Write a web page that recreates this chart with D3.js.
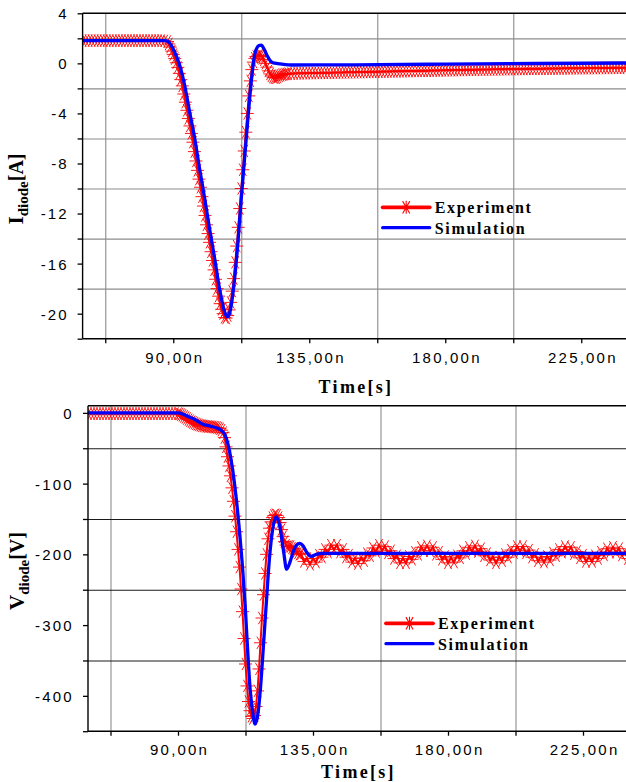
<!DOCTYPE html>
<html><head><meta charset="utf-8">
<script src="https://cdn.jsdelivr.net/npm/d3@7"></script>
<style>body{margin:0;background:#fff}svg{display:block}</style>
</head><body><svg id="c" width="626" height="782"></svg>
<script>
// ---------- data ----------
const timeTicks = [90, 135, 180, 225];
const timeTickLabels = ["90,00n", "135,00n", "180,00n", "225,00n"];
const timeGrid = [67.5, 112.5, 157.5, 202.5];
const currentTicks = [4, 0, -4, -8, -12, -16, -20];
const currentMinor = [2, -2, -6, -10, -14, -18, -22];
const currentGrid = [2, -2, -6, -10, -14, -18];
const voltageTicks = [0, -100, -200, -300, -400];
const voltageMinor = [-50, -150, -250, -350, -450];
const voltageGrid = [-50, -150, -250, -350];
const legendLabels = ["Experiment", "Simulation"];
const xTitle = "Time[s]";

// Simulation, diode current [A] (time in ns)
const simCurrent = [[60,1.82],[87,1.82],[88.2,1.78],[89.3,1.45],[90.4,0.93],[92.1,-0.13],[93.75,-1.73],[95.4,-3.87],[97.1,-6],[98.7,-8.4],[100.4,-10.8],[102,-13.2],[103.7,-15.6],[105.3,-18],[106.4,-19.3],[107.2,-20.0],[107.9,-20.25],[108.6,-20.0],[109.2,-19.3],[110.3,-17.2],[111.4,-14.3],[112.5,-10.8],[113.6,-7.6],[114.7,-4.4],[115.8,-1.47],[116.9,0.67],[117.6,1.2],[118.3,1.42],[119.1,1.45],[120.2,1.07],[121.1,0.6],[121.9,0.27],[123,0.05],[124.6,-0.02],[129,-0.13],[150,-0.12],[180,-0.06],[210,-0.01],[240,0.03]];

// Experiment, diode current [A]
const expCurrent = [[60,1.82],[61,1.82],[62,1.82],[63,1.82],[64,1.82],[65,1.82],[66,1.82],[67,1.82],[68,1.82],[69,1.82],[70,1.82],[71,1.82],[72,1.82],[73,1.82],[74,1.82],[75,1.82],[76,1.82],[77,1.82],[78,1.82],[79,1.82],[80,1.82],[81,1.82],[82,1.82],[83,1.82],[84,1.82],[85,1.82],[86,1.82],[87,1.8],
[88,1.75],[88.5,1.55],[89,1.3],[89.5,0.98],[90,0.7],[90.5,0.38],[91,0.05],[91.5,-0.32],[92,-0.8],[92.5,-1.3],[93,-1.8],[93.5,-2.45],[94,-3.1],[94.5,-3.75],[95,-4.4],[95.5,-5.0],[96,-5.6],[96.5,-6.3],[97,-7.05],[97.5,-7.8],[98,-8.55],[98.5,-9.25],[99,-9.9],[99.5,-10.65],[100,-11.4],[100.5,-12.15],[101,-12.9],[101.5,-13.6],[102,-14.3],[102.5,-15.05],[103,-15.75],[103.5,-16.5],[104,-17.25],[104.5,-18.0],[105,-18.6],[105.5,-19.2],[106,-19.65],[106.5,-20.0],[107,-20.3],[107.5,-20.35],[108,-20.15],[108.5,-19.7],[109,-19.1],[109.5,-18.2],[110,-17.2],[110.5,-15.9],[111,-14.6],[111.5,-13.1],[112,-11.6],[112.5,-10.0],[113,-8.5],[113.5,-7.0],[114,-5.5],[114.5,-4.0],[115,-2.6],[115.5,-1.4],[116,-0.5],[116.5,0.1],[117,0.4],[117.5,0.55],[118,0.6],[118.5,0.65],[119,0.65],[119.5,0.55],[120,0.3],[120.5,0.0],[121,-0.3],[121.5,-0.6],[122,-0.85],[122.5,-1.0],[123,-1.1],[123.5,-1.15],[124,-1.15],[124.5,-1.1],[125,-1.0],[125.5,-0.95],[126,-0.9],[126.5,-0.9],[127,-0.85],[127.5,-0.85],
[128,-0.82],[129,-0.82],[130,-0.81],[131,-0.8],[132,-0.8],[133,-0.79],[134,-0.79],[135,-0.78],[136,-0.78],[137,-0.77],[138,-0.77],[139,-0.76],[140,-0.76],[141,-0.75],[142,-0.75],[143,-0.74],[144,-0.74],[145,-0.73],[146,-0.73],[147,-0.72],[148,-0.72],[149,-0.71],[150,-0.71],[151,-0.7],[152,-0.7],[153,-0.69],[154,-0.69],[155,-0.68],[156,-0.68],[157,-0.67],[158,-0.67],[159,-0.66],[160,-0.66],[161,-0.65],[162,-0.65],[163,-0.64],[164,-0.64],[165,-0.63],[166,-0.63],[167,-0.62],[168,-0.62],[169,-0.61],[170,-0.61],[171,-0.6],[172,-0.6],[173,-0.59],[174,-0.59],[175,-0.58],[176,-0.58],[177,-0.57],[178,-0.57],[179,-0.56],[180,-0.56],[181,-0.55],[182,-0.55],[183,-0.54],[184,-0.54],[185,-0.53],[186,-0.53],[187,-0.52],[188,-0.52],[189,-0.51],[190,-0.51],[191,-0.5],[192,-0.5],[193,-0.5],[194,-0.49],[195,-0.49],[196,-0.48],[197,-0.48],[198,-0.48],[199,-0.47],[200,-0.47],[201,-0.46],[202,-0.46],[203,-0.46],[204,-0.45],[205,-0.45],[206,-0.45],[207,-0.44],[208,-0.44],[209,-0.44],[210,-0.43],[211,-0.43],[212,-0.43],[213,-0.42],[214,-0.42],[215,-0.42],[216,-0.41],[217,-0.41],[218,-0.41],[219,-0.4],[220,-0.4],[221,-0.4],[222,-0.4],[223,-0.39],[224,-0.39],[225,-0.39],[226,-0.39],[227,-0.38],[228,-0.38],[229,-0.38],[230,-0.38],[231,-0.37],[232,-0.37],[233,-0.37],[234,-0.37],[235,-0.36],[236,-0.36],[237,-0.36],[238,-0.36],[239,-0.35],[240,-0.35]];

// Simulation, diode voltage [V]
const simVoltage = [[60,0],[90,0],[91.5,-1.5],[93,-4.5],[95.9,-10],[98.3,-16],[100.5,-18.5],[102.7,-21],[104,-23.5],[104.9,-26.5],[105.6,-30.5],[106.1,-36],[107.2,-54.7],[108.3,-83],[109.4,-120.6],[110.5,-167.6],[111.6,-224],[112.5,-280.6],[113.3,-341.8],[114.1,-393.5],[115,-426.5],[115.7,-440],[116.6,-426.5],[117.5,-388.8],[118.5,-327.6],[119.4,-271],[120.5,-205],[121.6,-163],[122.7,-147],[123.8,-158],[125.2,-196],[126.2,-221],[127.4,-210],[128.5,-195],[129.5,-187],[130.6,-184.5],[131.7,-188],[132.9,-197],[134.3,-203],[135.8,-200.5],[138,-198.5],[240,-198.5]];

// Experiment, diode voltage [V]
const expVoltage = [[60,-1],[61,-1],[62,-1],[63,-1],[64,-1],[65,-1],[66,-1],[67,-1],[68,-1],[69,-1],[70,-1],[71,-1],[72,-1],[73,-1],[74,-1],[75,-1],[76,-1],[77,-1],[78,-1],[79,-1],[80,-1],[81,-1],[82,-1],[83,-1],[84,-1],[85,-1],[86,-1],[87,-1],[88,-1],[89,-1],
[90,-1],[90.5,-1.5],[91,-2.5],[91.5,-3.5],[92,-5],[92.5,-6.5],[93,-8],[93.5,-9.5],[94,-11],[94.5,-12.5],[95,-13.5],[95.5,-14.5],[96,-15.5],[96.5,-16.3],[97,-17],[97.5,-17.6],[98,-18.1],[98.5,-18.5],[99,-18.8],[99.5,-19.1],[100,-19.3],[100.5,-19.5],[101,-19.7],[101.5,-19.9],[102,-20.1],[102.5,-20.4],[103,-20.8],[103.5,-21.5],[104,-22.5],[104.5,-24.5],[105,-28],[105.5,-35],[106,-48],[106.5,-62],[107,-75],[107.5,-89],[108,-106],[108.5,-125],[109,-146],[109.5,-168],[110,-193],[110.5,-218],[111,-249],[111.5,-281],[112,-319],[112.5,-355],[113,-386],[113.5,-408],[114,-421],[114.5,-429],[115,-432],[115.5,-428],[116,-415],[116.5,-393],[117,-362],[117.5,-325],[118,-290],[118.5,-257],[119,-227],[119.5,-200],[120,-178],[120.5,-163],[121,-154],[121.5,-148],[122,-145],[122.5,-144],[123,-145],[123.5,-148],[124,-155],[124.5,-165],[125,-175],[125.5,-182],[126,-187],[126.5,-189],[127,-189],[127.5,-189],[128,-191],[128.5,-192],[129,-194],[129.5,-196],[130,-198],[130.5,-200],
[131,-199],[132,-210],[133,-206],[134,-214],[135,-206],[136,-211],[137,-201],[138,-204],[139,-193],[140,-197],[141,-187],[142,-193],[143,-187],[144,-197],[145,-193],[146,-204],[147,-201],[148,-211],[149,-206],[150,-213],[151,-205],[152,-209],[153,-199],[154,-202],[155,-191],[156,-196],[157,-187],[158,-194],[159,-189],[160,-198],[161,-195],[162,-206],[163,-202],[164,-212],[165,-206],[166,-212],[167,-203],[168,-207],[169,-197],[170,-200],[171,-190],[172,-195],[173,-188],[174,-195],[175,-190],[176,-200],[177,-197],[178,-207],[179,-203],[180,-212],[181,-205],[182,-211],[183,-202],[184,-205],[185,-195],[186,-199],[187,-190],[188,-195],[189,-188],[190,-196],[191,-192],[192,-202],[193,-199],[194,-208],[195,-204],[196,-212],[197,-204],[198,-209],[199,-200],[200,-204],[201,-194],[202,-198],[203,-189],[204,-195],[205,-189],[206,-198],[207,-194],[208,-204],[209,-200],[210,-209],[211,-204],[212,-211],[213,-203],[214,-208],[215,-198],[216,-202],[217,-193],[218,-197],[219,-189],[220,-196],[221,-190],[222,-199],[223,-196],[224,-205],[225,-201],[226,-210],[227,-204],[228,-210],[229,-202],[230,-206],[231,-197],[232,-201],[233,-192],[234,-197],[235,-190],[236,-197],[237,-192],[238,-201],[239,-197],[240,-206]];

// ---------- drawing ----------
const W = 626, H = 782;
const SANS = "'Liberation Sans', Arial, sans-serif";
const SERIF = "'Liberation Serif', 'Times New Roman', serif";
const svg = d3.select("#c");
const starPath = "M-6.5,0L6.5,0M-3.6,-6.2L3.6,6.2M-3.6,6.2L3.6,-6.2";

function drawPanel(p) {
  const x = d3.scaleLinear().domain([60, 240]).range([p.left, p.right]);
  const y = d3.scaleLinear().domain(p.yDomain).range([p.bottom, p.top]);
  const g = svg.append("g");
  const clipId = "clip" + p.id;
  svg.append("clipPath").attr("id", clipId).append("rect")
    .attr("x", p.left).attr("y", p.top).attr("width", W - p.left).attr("height", p.bottom - p.top);

  // vertical grid
  g.append("g").attr("transform", `translate(0,${p.bottom})`)
    .call(d3.axisBottom(x).tickValues(timeGrid).tickSize(-(p.bottom - p.top)).tickFormat(""))
    .call(s => { s.select(".domain").remove(); s.selectAll("line").attr("stroke", "#8c8c8c").attr("stroke-width", 1.1); });
  // horizontal grid
  g.append("g").attr("transform", `translate(${p.left},0)`)
    .call(d3.axisLeft(y).tickValues(p.gridY).tickSize(-(W - p.left)).tickFormat(""))
    .call(s => { s.select(".domain").remove(); s.selectAll("line").attr("stroke", p.gridColor).attr("stroke-width", 1.1); });

  // data
  const plot = g.append("g").attr("clip-path", `url(#${clipId})`);
  plot.append("path").datum(p.exp)
    .attr("d", d3.line().x(d => x(d[0])).y(d => y(d[1])))
    .attr("fill", "none").attr("stroke", "#ff0000").attr("stroke-width", 2);
  plot.append("g").selectAll("path").data(p.exp).join("path")
    .attr("transform", d => `translate(${x(d[0])},${y(d[1])})`)
    .attr("d", starPath).attr("fill", "none").attr("stroke", "#ff0000")
    .attr("stroke-width", 1).attr("opacity", 0.9);
  plot.append("path").datum(p.sim)
    .attr("d", d3.line().curve(d3.curveMonotoneX).x(d => x(d[0])).y(d => y(d[1])))
    .attr("fill", "none").attr("stroke", "#0000ff").attr("stroke-width", 3.3)
    .attr("stroke-linejoin", "round").attr("stroke-linecap", "round");

  // frame
  const frame = g.append("g").attr("stroke", "#000").attr("stroke-width", 1.4);
  frame.append("line").attr("x1", p.left).attr("x2", p.left).attr("y1", p.top).attr("y2", p.bottom);
  frame.append("line").attr("x1", p.left).attr("x2", W).attr("y1", p.top).attr("y2", p.top);
  frame.append("line").attr("x1", p.left).attr("x2", W).attr("y1", p.bottom).attr("y2", p.bottom);

  // y axis ticks
  const yMajor = g.append("g").attr("transform", `translate(${p.left},0)`)
    .call(d3.axisLeft(y).tickValues(p.yTicks).tickSize(5).tickSizeOuter(0).tickPadding(p.yPad).tickFormat(d3.format("d")));
  const yMinor = g.append("g").attr("transform", `translate(${p.left},0)`)
    .call(d3.axisLeft(y).tickValues(p.yMinor).tickSize(5).tickSizeOuter(0).tickFormat(""));
  // x axis ticks
  const xMajor = g.append("g").attr("transform", `translate(0,${p.bottom})`)
    .call(d3.axisBottom(x).tickValues(timeTicks).tickSize(4.5).tickSizeOuter(0).tickPadding(p.xPad)
      .tickFormat((d, i) => timeTickLabels[i]));
  const xMinor = g.append("g").attr("transform", `translate(0,${p.bottom})`)
    .call(d3.axisBottom(x).tickValues(timeGrid).tickSize(4.5).tickSizeOuter(0).tickFormat(""));
  [yMajor, yMinor, xMajor, xMinor].forEach(a => {
    a.select(".domain").remove();
    a.selectAll("line").attr("stroke", "#000").attr("stroke-width", 1.3);
    a.selectAll("text").attr("font-family", SANS).attr("font-size", 15)
      .attr("letter-spacing", "2.2px").attr("fill", "#000");
  });
  yMajor.selectAll("text").attr("dy", "0.36em").text(d => String(d).replace("\u2212", "-"));
  xMajor.selectAll("text").attr("dx", "1.1");

  // x title
  svg.append("text").attr("x", p.titleX).attr("y", p.titleY).attr("text-anchor", "middle")
    .attr("font-family", SERIF).attr("font-weight", "bold").attr("font-size", 18)
    .attr("letter-spacing", "2.3px").text(xTitle);

  // y title
  const yt = svg.append("text").attr("transform", `translate(${p.yLabX},${p.yLabY}) rotate(-90)`)
    .attr("text-anchor", "middle").attr("font-family", SERIF).attr("fill", "#000");
  yt.append("tspan").attr("font-weight", "bold").attr("font-size", 21).text(p.ySym);
  yt.append("tspan").attr("font-weight", "bold").attr("font-size", 15).attr("dy", 5).text("diode");
  yt.append("tspan").attr("font-weight", "bold").attr("font-size", 20).attr("dy", -5).text(p.yUnit);

  // legend
  const lg = svg.append("g");
  const lx0 = p.legX, lx1 = p.legX + 47;
  lg.append("line").attr("x1", lx0).attr("x2", lx1).attr("y1", p.legY).attr("y2", p.legY)
    .attr("stroke", "#ff0000").attr("stroke-width", 3.8).attr("stroke-linecap", "round");
  lg.append("path").attr("transform", `translate(${(lx0 + lx1) / 2},${p.legY})`)
    .attr("d", starPath + "M0,-6.5L0,6.5").attr("stroke", "#ff0000").attr("stroke-width", 1.1).attr("fill", "none");
  lg.append("line").attr("x1", lx0).attr("x2", lx1).attr("y1", p.legY + 20.4).attr("y2", p.legY + 20.4)
    .attr("stroke", "#0000ff").attr("stroke-width", 3.3).attr("stroke-linecap", "round");
  legendLabels.forEach((t, i) => {
    lg.append("text").attr("x", lx1 + 5).attr("y", p.legY + 6 + i * 20.2)
      .attr("font-family", SERIF).attr("font-weight", "bold").attr("font-size", 16)
      .attr("letter-spacing", "1.7px").text(t);
  });
}

drawPanel({
  id: "I", left: 82.6, right: 626.6, top: 13.3, bottom: 338.7, yDomain: [-22, 4],
  yTicks: currentTicks, yMinor: currentMinor, gridY: currentGrid, gridColor: "#8c8c8c",
  exp: expCurrent, sim: simCurrent, yPad: 8.7, xPad: 8.8,
  titleX: 356, titleY: 393.3, yLabX: 23, yLabY: 189, ySym: "I", yUnit: "[A]",
  legX: 382.7, legY: 207.3
});
drawPanel({
  id: "V", left: 88, right: 628, top: 405.8, bottom: 731.2, yDomain: [-450, 10],
  yTicks: voltageTicks, yMinor: voltageMinor, gridY: voltageGrid, gridColor: "#1a1a1a",
  exp: expVoltage, sim: simVoltage, yPad: 9.1, xPad: 8.65,
  titleX: 358.5, titleY: 778, yLabX: 24, yLabY: 571, ySym: "V", yUnit: "[V]",
  legX: 386, legY: 623.3
});
</script>
</body></html>
